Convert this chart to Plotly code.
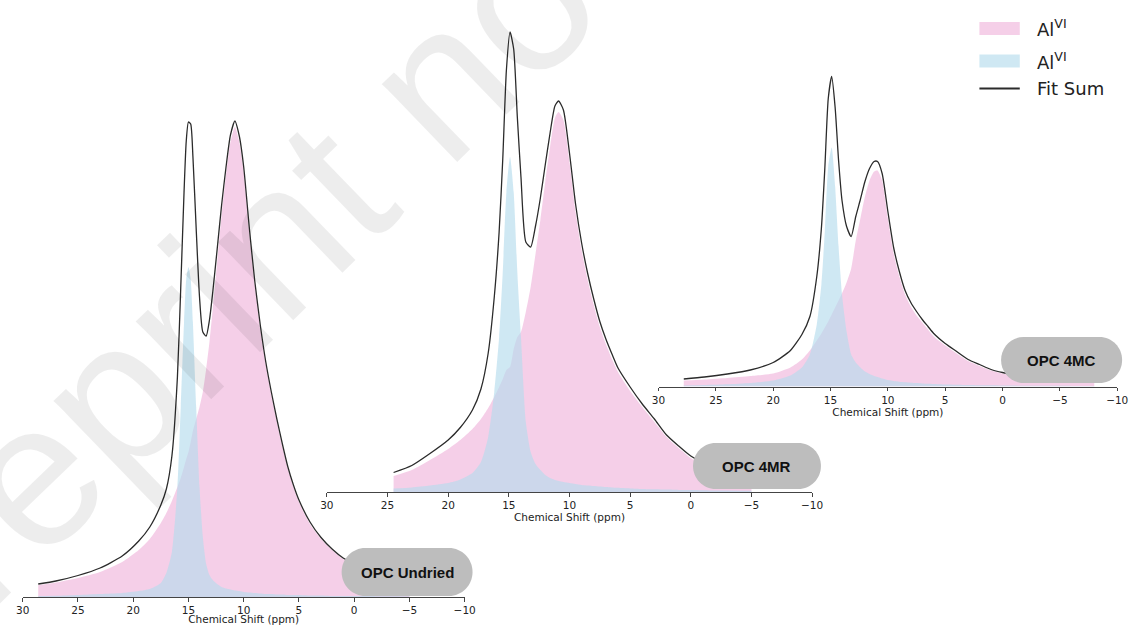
import plotly.graph_objects as go

# ---------------- data (intensities in arbitrary units) ----------------
labels = ["OPC Undried", "OPC 4MR", "OPC 4MC"]
legend_names = ["Al<sup>VI</sup>", "Al<sup>VI</sup>", "Fit Sum"]
tick_vals = [30, 25, 20, 15, 10, 5, 0, -5, -10]
tick_text = ["30", "25", "20", "15", "10", "5", "0", "\u22125", "\u221210"]
x_title = "Chemical Shift (ppm)"
watermark = "Preprint not peer reviewed"

# Panel 1 : OPC Undried
ppm_undried = [28.6, 27, 25, 23, 21, 19.5, 18.5, 17.5, 17, 16.5, 16, 15.7, 15.4, 15.2, 15.0, 14.8, 14.6,
               14.3, 14.0, 13.7, 13.4, 13.1, 12.8, 12.4, 12.0, 11.6, 11.2, 10.8, 10.4, 10.0, 9.5, 9.0,
               8.5, 8.0, 7.5, 7.0, 6.5, 6.0, 5.5, 5.0, 4.0, 3.0, 2.0, 1.0, 0, -1, -2.5, -4, -5]
pink_undried = [12, 14.5, 19, 25, 35, 47, 58, 74, 84, 96, 110, 119, 130, 138, 145, 155, 166,
                178, 190, 205, 228, 255, 288, 335, 382, 422, 455, 470, 455, 425, 365, 312,
                268, 232, 202, 175, 150, 128, 110, 95, 73, 58, 47, 38, 32, 27, 21, 17.5, 15]
blue_undried = [1, 1.2, 2, 3, 4, 6, 8, 14, 24, 45, 110, 190, 275, 318, 330, 318, 275,
                190, 110, 60, 33, 22, 17, 13, 10, 8.5, 7.5, 6.5, 6, 5, 4.5, 4,
                3.5, 3, 3, 2.5, 2.5, 2, 2, 2, 1.5, 1.5, 1, 1, 1, 1, 0.8, 0.7, 0.6]
fit_undried = [13, 16, 21.5, 29, 41, 56, 70, 92, 108, 141, 220, 309, 405, 456, 475, 473, 441,
               368, 300, 265, 261, 277, 305, 348, 392, 430, 462, 476, 461, 430, 370, 316,
               272, 235, 205, 178, 153, 130, 112, 97, 75, 59.5, 48, 39, 33, 28, 22, 18, 15.6]

# Panel 2 : OPC 4MR
ppm_4mr = [24.5, 23, 21.5, 20, 19, 18, 17.3, 16.7, 16.2, 15.8, 15.5, 15.2, 14.9, 14.6, 14.3, 14.0,
           13.6, 13.2, 12.8, 12.4, 12.0, 11.6, 11.2, 10.9, 10.5, 10.0, 9.5, 9.0, 8.5, 8.0, 7.5,
           7.0, 6.5, 6.0, 5.0, 4.0, 3.0, 2.0, 1.0, 0, -1.5, -3, -5]
pink_4mr = [16, 22, 32, 43, 52, 63, 73, 84, 95, 105, 113, 122, 125, 143, 155, 160,
            180, 205, 238, 272, 310, 345, 374, 380, 372, 330, 280, 242, 212, 187, 165,
            148, 133, 120, 101, 85, 70, 55, 44, 34, 25, 20, 15]
blue_4mr = [3.5, 4.5, 6.5, 9, 12.5, 19, 30, 55, 100, 155, 220, 300, 335, 300, 220, 155,
            70, 40, 28, 22, 17, 14, 12, 11, 10, 9, 8, 7, 6.5, 6, 5.5,
            5, 4.6, 4.2, 3.6, 3.1, 2.7, 2.4, 2.1, 1.9, 1.6, 1.4, 1.2]
fit_4mr = [19.5, 26.5, 38.5, 52, 64.5, 82, 103, 139, 195, 260, 333, 422, 460, 443, 375, 315,
           250, 245, 266, 294, 327, 359, 386, 391, 382, 339, 288, 249, 218.5, 193, 170.5,
           153, 138, 124, 105, 88, 73, 57, 46, 36, 27, 21.5, 16]

# Panel 3 : OPC 4MC
ppm_4mc = [27.8, 26, 24, 22, 20, 18.5, 17.5, 16.8, 16.2, 15.8, 15.5, 15.2, 14.9, 14.6, 14.3, 14.0,
           13.6, 13.2, 12.8, 12.4, 12.0, 11.6, 11.2, 10.9, 10.5, 10.0, 9.5, 9.0, 8.5, 8.0, 7.5, 7.0,
           6.5, 6.0, 5.0, 4.0, 3.0, 2.0, 1.0, 0, -2, -4, -6, -8]
pink_4mc = [6, 7, 8.5, 10.5, 13, 19, 27, 36, 46, 53, 59, 65, 72, 79, 86, 93,
            104, 118, 146, 168, 190, 206, 215, 216, 206, 168, 133, 110, 92, 80, 71, 64,
            57, 50, 41, 33, 25.5, 20.5, 16, 13, 9, 6.3, 5, 4]
blue_4mc = [1, 1.5, 2.2, 3.5, 6, 11, 19, 32, 62, 102, 155, 220, 239, 200, 140, 92,
            55, 32, 24, 19, 15, 12.5, 10.5, 9.5, 8, 6.5, 5.5, 4.8, 4.2, 3.8, 3.4, 3,
            2.7, 2.5, 2, 1.8, 1.5, 1.3, 1.2, 1, 0.8, 0.7, 0.6, 0.5]
fit_4mc = [7.5, 9.5, 12.5, 16.5, 24, 36, 52, 70, 110, 158, 218, 288, 310, 279, 226, 186,
           160, 150, 170, 187, 205, 218, 225, 225, 213, 175, 139, 115, 96, 84, 75, 67,
           60, 53, 43, 35, 27, 22, 17, 14, 10, 7, 5.5, 4.5]

panels_ppm = [ppm_undried, ppm_4mr, ppm_4mc]
panels_pink = [pink_undried, pink_4mr, pink_4mc]
panels_blue = [blue_undried, blue_4mr, blue_4mc]
panels_fit = [fit_undried, fit_4mr, fit_4mc]

# ---------------- layout geometry (pixels of the 1141x625 canvas) ----------------
W, H = 1141, 625
# (x of 30 ppm, x of -10 ppm, y of axis line, y-range height in px == units)
geom = [(16, 465, 597, 500), (325, 818, 492, 480), (662, 1128, 386.5, 360)]
# label boxes: x0, x1, y0, y1
boxes = [(340, 473, 548, 596), (697, 827, 443, 489), (1010, 1133, 337, 383)]

PINK = "rgba(225,110,185,0.33)"
BLUE = "rgba(181,220,237,0.65)"
LINE = "#2b2b2b"
AXIS = "#444444"
SMOOTH = 0.6


def X(px):
    return px / W


def Y(py):
    return 1 - py / H


fig = go.Figure()
layout = dict()
for i in range(3):
    sfx = "" if i == 0 else str(i + 1)
    xa, ya = "x" + sfx, "y" + sfx
    fig.add_trace(go.Scatter(x=panels_ppm[i], y=panels_pink[i], xaxis=xa, yaxis=ya, mode="lines",
                             line=dict(width=0, shape="spline", smoothing=SMOOTH), fill="tozeroy",
                             fillcolor=PINK, name=legend_names[0], showlegend=False))
    fig.add_trace(go.Scatter(x=panels_ppm[i], y=panels_blue[i], xaxis=xa, yaxis=ya, mode="lines",
                             line=dict(width=0, shape="spline", smoothing=SMOOTH), fill="tozeroy",
                             fillcolor=BLUE, name=legend_names[1], showlegend=False))
    fig.add_trace(go.Scatter(x=panels_ppm[i], y=panels_fit[i], xaxis=xa, yaxis=ya, mode="lines",
                             line=dict(width=1.3, color=LINE, shape="spline", smoothing=SMOOTH),
                             name=legend_names[2], showlegend=False))
    x30, xm10, yax, rng = geom[i]
    layout["xaxis" + sfx] = dict(
        domain=[X(x30), X(xm10)], range=[30, -10], anchor=ya,
        tickmode="array", tickvals=tick_vals, ticktext=tick_text,
        ticks="outside", ticklen=3.5, tickwidth=1, tickcolor=AXIS,
        showline=True, linecolor=AXIS, linewidth=1, showgrid=False, zeroline=False,
        tickfont=dict(family="DejaVu Sans", size=10.5, color="#222"),
        title=dict(text=x_title, font=dict(family="DejaVu Sans", size=10.5, color="#222"), standoff=1),
    )
    layout["yaxis" + sfx] = dict(domain=[Y(yax), Y(yax - rng)], range=[0, rng], anchor=xa,
                                 visible=False, fixedrange=True)


def rounded_path(x0, x1, y0, y1):
    r = (y1 - y0) / 2.0
    k = 0.5523 * r
    segs = [
        ("M", (x0 + r, y0)), ("L", (x1 - r, y0)),
        ("C", (x1 - r + k, y0), (x1, y0 + r - k), (x1, y0 + r)),
        ("C", (x1, y0 + r + k), (x1 - r + k, y1), (x1 - r, y1)),
        ("L", (x0 + r, y1)),
        ("C", (x0 + r - k, y1), (x0, y1 - r + k), (x0, y1 - r)),
        ("C", (x0, y0 + r - k), (x0 + r - k, y0), (x0 + r, y0)),
    ]
    path = ""
    for seg in segs:
        path += seg[0] + " ".join("%.5f,%.5f" % (X(a), Y(b)) for a, b in seg[1:]) + " "
    return path + "Z"


shapes = []
annotations = []
for i, (x0, x1, y0, y1) in enumerate(boxes):
    shapes.append(dict(type="path", xref="paper", yref="paper", path=rounded_path(x0, x1, y0, y1),
                       fillcolor="#bdbdbd", line=dict(width=0), layer="above"))
    annotations.append(dict(xref="paper", yref="paper", x=X((x0 + x1) / 2), y=Y((y0 + y1) / 2),
                            text="<b>" + labels[i] + "</b>", showarrow=False,
                            font=dict(family="Liberation Sans", size=15, color="#111"),
                            xanchor="center", yanchor="middle"))

# legend (drawn as swatches + text, top right)
leg_rows = [28.5, 61, 88.5]
shapes.append(dict(type="rect", xref="paper", yref="paper", x0=X(988), x1=X(1029),
                   y0=Y(leg_rows[0] - 6.5), y1=Y(leg_rows[0] + 6.5), fillcolor=PINK, line=dict(width=0)))
shapes.append(dict(type="rect", xref="paper", yref="paper", x0=X(988), x1=X(1029),
                   y0=Y(leg_rows[1] - 6.5), y1=Y(leg_rows[1] + 6.5), fillcolor=BLUE, line=dict(width=0)))
shapes.append(dict(type="line", xref="paper", yref="paper", x0=X(988), x1=X(1029),
                   y0=Y(leg_rows[2]), y1=Y(leg_rows[2]), line=dict(color=LINE, width=2)))
for name, row in zip(legend_names, leg_rows):
    annotations.append(dict(xref="paper", yref="paper", x=X(1044), y=Y(row), text=name, showarrow=False,
                            xanchor="left", yanchor="middle",
                            font=dict(family="DejaVu Sans", size=18, color="#222")))

# faint watermark
annotations.append(dict(xref="paper", yref="paper", x=X(709), y=Y(-176), text=watermark,
                        showarrow=False, textangle=-44,
                        font=dict(family="Liberation Sans", size=205, color="rgba(0,0,0,0.07)"),
                        xanchor="center", yanchor="middle"))

fig.update_layout(
    **layout,
    width=W, height=H, margin=dict(l=0, r=0, t=0, b=0),
    paper_bgcolor="white", plot_bgcolor="rgba(0,0,0,0)",
    shapes=shapes, annotations=annotations,
    showlegend=False,
)

fig.write_html("out.html", post_script="document.body.style.margin='0';",
               config={"displayModeBar": False})
